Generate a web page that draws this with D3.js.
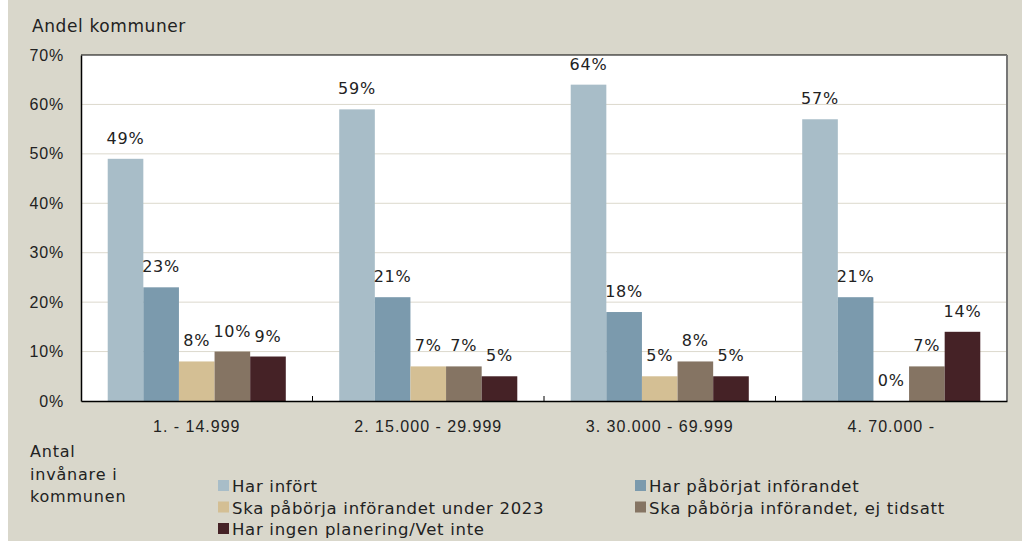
<!DOCTYPE html>
<html lang="sv">
<head>
  <meta charset="UTF-8">
  <title>Andel kommuner</title>
  <script src="https://cdn.jsdelivr.net/npm/d3@7/dist/d3.min.js"></script>
  <style>
    body { margin: 0; background: #fff; }
    svg { display: block; font-family: "DejaVu Sans", sans-serif; }
    .lbl { font-size: 16px; fill: #222; letter-spacing: 0.8px; }
  </style>
</head>
<body>
  <div id="chart"></div>
  <script>
    // data
    const categories = ['1. - 14.999', '2. 15.000 - 29.999', '3. 30.000 - 69.999', '4. 70.000 -'];
    const seriesNames = [
      'Har infört',
      'Har påbörjat införandet',
      'Ska påbörja införandet under 2023',
      'Ska påbörja införandet, ej tidsatt',
      'Har ingen planering/Vet inte'
    ];
    const harInfort = [49, 59, 64, 57];
    const harPaborjat = [23, 21, 18, 21];
    const under2023 = [8, 7, 5, 0];
    const ejTidsatt = [10, 7, 8, 7];
    const ingenPlanering = [9, 5, 5, 14];
    const yTicks = [0, 10, 20, 30, 40, 50, 60, 70];
    const colors = ['#a8bdc8', '#7b9aad', '#d4bf94', '#857463', '#452226'];

    const values = [harInfort, harPaborjat, under2023, ejTidsatt, ingenPlanering];

    const W = 1022, H = 541;
    const plot = { left: 81, right: 1007, top: 55, bottom: 401 };

    const svg = d3.select('#chart').append('svg')
      .attr('width', W)
      .attr('height', H);

    // background, white strip on the left edge
    svg.append('rect').attr('width', W).attr('height', H).attr('fill', '#fff');
    svg.append('rect').attr('x', 8).attr('width', W - 8).attr('height', H).attr('fill', '#d9d7cb');

    // plot area
    svg.append('rect')
      .attr('x', plot.left).attr('y', plot.top)
      .attr('width', plot.right - plot.left).attr('height', plot.bottom - plot.top)
      .attr('fill', '#fff');

    const x0 = d3.scaleBand().domain(categories).range([plot.left, plot.right]);
    const bw = x0.bandwidth();
    const edge = bw * 0.75 / 6.5;
    const x1 = d3.scaleBand().domain(d3.range(seriesNames.length)).range([edge, bw - edge]);
    const y = d3.scaleLinear().domain([0, 70]).range([plot.bottom, plot.top]);

    // gridlines
    svg.append('g')
      .selectAll('line')
      .data(yTicks.filter(t => t > 0 && t < 70))
      .join('line')
      .attr('x1', plot.left).attr('x2', plot.right)
      .attr('y1', d => y(d)).attr('y2', d => y(d))
      .attr('stroke', '#dcd9cd')
      .attr('stroke-width', 1);

    // bars
    const groups = svg.append('g')
      .selectAll('g')
      .data(categories)
      .join('g')
      .attr('transform', d => `translate(${x0(d)},0)`);

    groups.selectAll('rect')
      .data((d, ci) => values.map((s, si) => ({ si, v: s[ci] })))
      .join('rect')
      .attr('x', d => x1(d.si))
      .attr('y', d => y(d.v))
      .attr('width', x1.bandwidth())
      .attr('height', d => y(0) - y(d.v))
      .attr('fill', d => colors[d.si]);

    groups.selectAll('text')
      .data((d, ci) => values.map((s, si) => ({ si, v: s[ci] })))
      .join('text')
      .attr('class', 'lbl')
      .attr('x', d => x1(d.si) + x1.bandwidth() / 2)
      .attr('y', d => y(d.v) - 15)
      .attr('text-anchor', 'middle')
      .text(d => d.v + '%');

    // plot border
    svg.append('path')
      .attr('d', `M${plot.left},${plot.top}H${plot.right}`)
      .attr('stroke', '#000').attr('stroke-width', 1.2).attr('fill', 'none');
    svg.append('path')
      .attr('d', `M${plot.right},${plot.top}V${plot.bottom}`)
      .attr('stroke', '#777').attr('stroke-width', 2).attr('fill', 'none');

    // y axis
    const yAxis = svg.append('g')
      .attr('transform', `translate(${plot.left},0)`)
      .call(d3.axisLeft(y).tickValues(yTicks).tickSize(0).tickPadding(17).tickFormat(d => d + '%'));
    yAxis.select('.domain').attr('stroke', '#000').attr('stroke-width', 1.5);
    yAxis.selectAll('text').attr('class', 'lbl').attr('font-family', null).attr('font-size', null);

    // x axis
    const xAxis = svg.append('g')
      .attr('transform', `translate(0,${plot.bottom})`)
      .call(d3.axisBottom(x0).tickSize(0).tickPadding(20));
    xAxis.select('.domain').attr('stroke', '#000').attr('stroke-width', 1.5);
    xAxis.selectAll('text').attr('class', 'lbl').attr('font-family', null).attr('font-size', null)
      .style('letter-spacing', '1px');

    // small inner tick marks between categories
    svg.append('g')
      .selectAll('line')
      .data(categories.slice(1))
      .join('line')
      .attr('x1', d => x0(d)).attr('x2', d => x0(d))
      .attr('y1', plot.bottom).attr('y2', plot.bottom - 5)
      .attr('stroke', '#000');

    // axis titles
    svg.append('text').attr('class', 'lbl')
      .attr('x', 32).attr('y', 32)
      .style('font-size', '17px')
      .style('letter-spacing', '0.6px')
      .text('Andel kommuner');

    svg.append('text').attr('class', 'lbl')
      .attr('x', 30).attr('y', 457)
      .selectAll('tspan')
      .data(['Antal', 'invånare i', 'kommunen'])
      .join('tspan')
      .attr('x', 30)
      .attr('dy', (d, i) => i === 0 ? 0 : 22.5)
      .text(d => d);

    // legend
    const legend = svg.append('g')
      .selectAll('g')
      .data(seriesNames)
      .join('g')
      .attr('transform', (d, i) => `translate(${i % 2 === 0 ? 218 : 635},${492 + Math.floor(i / 2) * 21.5})`);

    legend.append('rect')
      .attr('x', 0).attr('y', -12)
      .attr('width', 11).attr('height', 11)
      .attr('fill', (d, i) => colors[i]);

    legend.append('text')
      .attr('class', 'lbl')
      .attr('x', 14)
      .style('font-size', '16.5px')
      .style('letter-spacing', '0.7px')
      .text(d => d);
  </script>
</body>
</html>
